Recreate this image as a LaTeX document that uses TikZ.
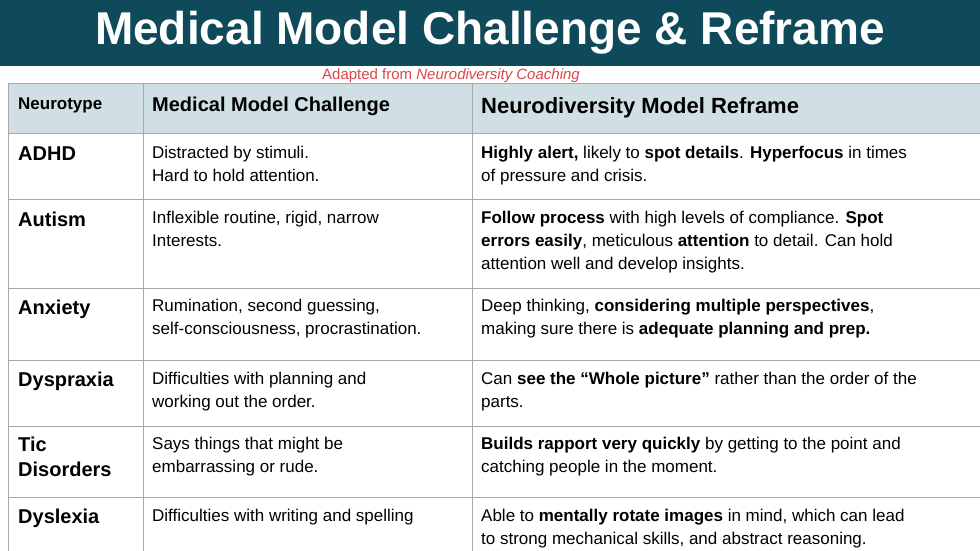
\documentclass[tikz,border=0pt]{standalone}
\usepackage{fontspec}
\setmainfont{Liberation Sans}
\definecolor{bar}{HTML}{0E4A5A}
\definecolor{hdr}{HTML}{D0DFE4}
\definecolor{gridc}{HTML}{A8A8A8}
\definecolor{redt}{HTML}{D9464B}
\begin{document}
\begin{tikzpicture}[x=1pt,y=-1pt,
  cell/.style={anchor=north west,inner sep=0pt,align=left},
  body/.style={cell,font=\fontsize{17}{23}\selectfont},
  lab/.style={cell,font=\fontsize{20}{25}\selectfont\bfseries},
  gl/.style={draw=gridc,line width=1pt}]
\useasboundingbox (0,0) rectangle (980,551);
\fill[bar] (0,0) rectangle (980,66);
\node[text=white,font=\fontsize{46}{50}\selectfont\bfseries] (title) at (490,33) {Medical Model Challenge \& Reframe};
\node[text=redt,font=\fontsize{15}{18}\selectfont] (src) at (451,76) {Adapted from \textit{Neurodiversity Coaching}};
\fill[hdr] (8,84) rectangle (980,133);
% grid
\foreach \y in {84,133,199,288,360,426,497} \draw[gl] (8,\y) -- (980,\y);
\foreach \x in {8,143,472} \draw[gl] (\x,84) -- (\x,551);
% header
\node[cell,font=\fontsize{17}{20}\selectfont\bfseries] (h1) at (18,98) {Neurotype};
\node[cell,font=\fontsize{20}{24}\selectfont\bfseries] (h2) at (152,97) {Medical Model Challenge};
\node[cell,font=\fontsize{22}{26}\selectfont\bfseries] (h3) at (481,97) {Neurodiversity Model Reframe};
% rows
\node[lab] (l1) at (18,147) {ADHD};
\node[body] (c1) at (152,146) {Distracted by stimuli.\\Hard to hold attention.};
\node[body] (r1) at (481,146) {\textbf{Highly alert,} likely to \textbf{spot details}. \textbf{Hyperfocus} in times\\of pressure and crisis.};
\node[lab] (l2) at (18,212) {Autism};
\node[body] (c2) at (152,211) {Inflexible routine, rigid, narrow\\Interests.};
\node[body] (r2) at (481,211) {\textbf{Follow process} with high levels of compliance. \textbf{Spot}\\\textbf{errors easily}, meticulous \textbf{attention} to detail. Can hold\\attention well and develop insights.};
\node[lab] (l3) at (18,300) {Anxiety};
\node[body] (c3) at (152,299) {Rumination, second guessing,\\self-consciousness, procrastination.};
\node[body] (r3) at (481,299) {Deep thinking, \textbf{considering multiple perspectives},\\making sure there is \textbf{adequate planning and prep.}};
\node[lab] (l4) at (18,372) {Dyspraxia};
\node[body] (c4) at (152,372) {Difficulties with planning and\\working out the order.};
\node[body] (r4) at (481,372) {Can \textbf{see the “Whole picture”} rather than the order of the\\parts.};
\node[lab] (l5) at (18,437) {Tic\\Disorders};
\node[body] (c5) at (152,437) {Says things that might be\\embarrassing or rude.};
\node[body] (r5) at (481,437) {\textbf{Builds rapport very quickly} by getting to the point and\\catching people in the moment.};
\node[lab] (l6) at (18,509) {Dyslexia};
\node[body] (c6) at (152,509) {Difficulties with writing and spelling};
\node[body] (r6) at (481,509) {Able to \textbf{mentally rotate images} in mind, which can lead\\to strong mechanical skills, and abstract reasoning.};
\end{tikzpicture}
\end{document}
